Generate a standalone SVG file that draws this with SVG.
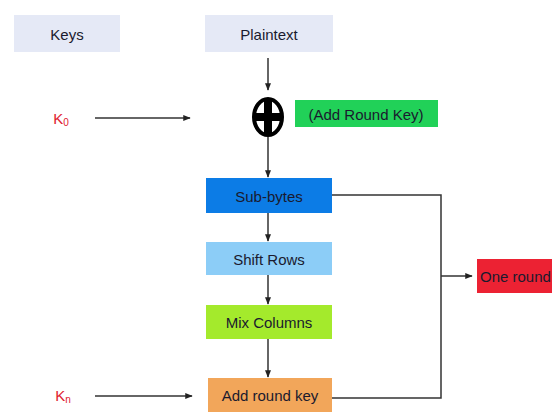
<svg xmlns="http://www.w3.org/2000/svg" width="552" height="416" viewBox="0 0 552 416">
<defs>
<marker id="ah" viewBox="0 0 10 10" refX="9" refY="5" markerWidth="5" markerHeight="5" orient="auto">
<path d="M0,1 L10,5 L0,9 z" fill="#222"/>
</marker>
<style>
text{font-family:"Liberation Sans","DejaVu Sans",sans-serif;font-size:15px;text-anchor:middle;dominant-baseline:central;fill:#1a1a2e}
.ln{stroke:#333;stroke-width:1.5;fill:none}
.key{fill:#e02030;font-size:15px}
</style>
</defs>
<rect width="552" height="416" fill="#fff"/>
<g id="keys"><rect x="14" y="15" width="106" height="37" fill="#e5e9f6"/><text x="67" y="34">Keys</text></g>
<g id="plaintext"><rect x="205" y="15" width="128" height="37" fill="#e5e9f6"/><text x="269" y="34">Plaintext</text></g>
<g id="k0"><text class="key" x="61" y="118">K<tspan font-size="10" dy="4">0</tspan></text></g>
<g id="xor">
<ellipse cx="268" cy="117" rx="14" ry="18" fill="#fff" stroke="#000" stroke-width="4"/>
<path d="M268,99 V135 M254,117 H282" stroke="#000" stroke-width="8"/>
</g>
<g id="addroundkey0"><rect x="295" y="100" width="143" height="27" fill="#21d158"/><text x="366" y="114">(Add Round Key)</text></g>
<g id="subbytes"><rect x="206" y="178" width="126" height="35" fill="#0c7ce6"/><text x="269" y="196" fill="#0c2a55">Sub-bytes</text></g>
<g id="shiftrows"><rect x="206" y="242" width="126" height="33" fill="#8ccdf7"/><text x="269" y="259">Shift Rows</text></g>
<g id="mixcolumns"><rect x="206" y="305" width="126" height="34" fill="#a4ea2c"/><text x="269" y="322">Mix Columns</text></g>
<g id="addroundkey"><rect x="208" y="378" width="124" height="34" fill="#f2a65a"/><text x="270" y="395">Add round key</text></g>
<g id="kn"><text class="key" x="63" y="395">K<tspan font-size="10" dy="4">n</tspan></text></g>
<g id="oneround"><rect x="477" y="259" width="80" height="34" fill="#ec2233"/><text x="480" y="276" style="text-anchor:start">One round</text></g>
<g id="connectors">
<path class="ln" d="M268,58 V90" marker-end="url(#ah)"/>
<path class="ln" d="M95,118 H190" marker-end="url(#ah)"/>
<path class="ln" d="M268,137 V177" marker-end="url(#ah)"/>
<path class="ln" d="M268,213 V241" marker-end="url(#ah)"/>
<path class="ln" d="M268,275 V304" marker-end="url(#ah)"/>
<path class="ln" d="M268,339 V377" marker-end="url(#ah)"/>
<path class="ln" d="M95,396 H192" marker-end="url(#ah)"/>
<path class="ln" d="M332,195 H441 V398 H332"/>
<path class="ln" d="M441,276 H472" marker-end="url(#ah)"/>
</g>
</svg>
